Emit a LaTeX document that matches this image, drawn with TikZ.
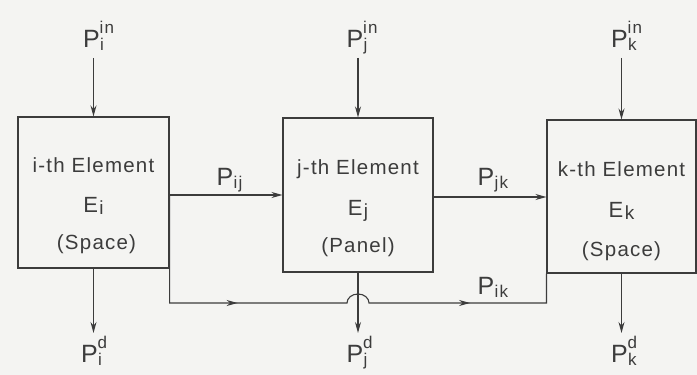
\documentclass[tikz,border=0pt]{standalone}
\usepackage{fontspec}
\setmainfont{Liberation Sans}[LetterSpace=6]
\usetikzlibrary{arrows.meta,decorations.markings}
\definecolor{ink}{RGB}{60,60,60}
\definecolor{paper}{RGB}{244,244,242}
\newcommand\subsz{\fontsize{17}{17}\selectfont}
\newcommand\Plab[2]{P\rlap{\kern0.5pt\raisebox{-3pt}{\subsz #1}}\raisebox{14.5pt}{\subsz #2}}
\newcommand\Esub[1]{{\fontsize{22}{22}\selectfont E}\kern1.5pt\raisebox{-2pt}{\fontsize{19}{19}\selectfont #1}}
\begin{document}
\begin{tikzpicture}[x=1pt,y=1pt,line width=1.1pt,draw=ink,text=ink,
  tipA/.style={-{Stealth[length=11pt,width=6pt]}},
  elem/.style={draw,rectangle,inner sep=0pt},
  etxt/.style={anchor=base,inner sep=0pt,font=\fontsize{20.5}{20.5}\selectfont},
  lbl/.style={anchor=base west,inner sep=0pt,font=\fontsize{25}{25}\selectfont},
  midtips/.style={postaction={decorate},decoration={markings,
    mark=at position 176pt with {\arrow{Stealth[length=11pt,width=6pt]}},
    mark=at position 418pt with {\arrow{Stealth[length=11pt,width=6pt]}}}}]
\fill[paper] (0,0) rectangle (697,375);
\useasboundingbox (0,0) rectangle (697,375);
% element boxes
\node[elem,minimum width=151pt,minimum height=151pt] (bi) at (93.5,182.5) {};
\node[elem,minimum width=150pt,minimum height=154pt] (bj) at (358,180) {};
\node[elem,minimum width=149pt,minimum height=153pt] (bk) at (621.5,178.5) {};
% box texts
\node[etxt] (ti1) at ([yshift=19.5pt]bi.center) {i-th Element};
\node[etxt] (ti2) at ([yshift=-20.5pt]bi.center) {\Esub{i}};
\node[etxt] (ti3) at ([shift={(3pt,-57.5pt)}]bi.center) {(Space)};
\node[etxt] (tj1) at ([yshift=20pt]bj.center) {j-th Element};
\node[etxt] (tj2) at ([yshift=-21pt]bj.center) {\Esub{j}};
\node[etxt] (tj3) at ([yshift=-58pt]bj.center) {(Panel)};
\node[etxt] (tk1) at ([yshift=19.5pt]bk.center) {k-th Element};
\node[etxt] (tk2) at ([yshift=-21.5pt]bk.center) {\Esub{k}};
\node[etxt] (tk3) at ([yshift=-60pt]bk.center) {(Space)};
% coordinates
\coordinate (inY) at (0,317);
\coordinate (outY) at (0,42);
\coordinate (pij) at (0,180);
\coordinate (pjk) at (0,178);
\coordinate (pik) at (0,72);
\coordinate (ii) at (bi.north |- inY);
\coordinate (ij) at (bj.north |- inY);
\coordinate (ik) at (bk.north |- inY);
\coordinate (oi) at (bi.south |- outY);
\coordinate (oj) at (bj.south |- outY);
\coordinate (ok) at (bk.south |- outY);
% input labels
\node[lbl] (lii) at ([shift={(-11pt,10pt)}]ii) {\Plab{i}{in}};
\node[lbl] (lij) at ([shift={(-12pt,10pt)}]ij) {\Plab{j}{in}};
\node[lbl] (lik) at ([shift={(-11pt,10pt)}]ik) {\Plab{k}{in}};
% output labels
\node[lbl] (loi) at ([shift={(-13pt,-30pt)}]oi) {\Plab{i}{d}};
\node[lbl] (loj) at ([shift={(-12pt,-30pt)}]oj) {\Plab{j}{d}};
\node[lbl] (lok) at ([shift={(-11pt,-30pt)}]ok) {\Plab{k}{d}};
% transfer labels
\node[lbl] (lpij) at (216,189) {\Plab{ij}{}};
\node[lbl] (lpjk) at (477,189) {\Plab{jk}{}};
\node[lbl] (lpik) at (477,80) {\Plab{ik}{}};
% input / output arrows
\draw[tipA] (ii) -- (bi.north);
\draw[tipA] (ij) -- (bj.north);
\draw[tipA] (ik) -- (bk.north);
\draw[tipA] (bi.south) -- (oi);
\draw[tipA] (bj.south) -- (oj);
\draw[tipA] (bk.south) -- (ok);
% transfers
\draw[tipA] (bi.east |- pij) -- (bj.west |- pij);
\draw[tipA] (bj.east |- pjk) -- (bk.west |- pjk);
\draw[midtips] (bi.east |- pij) -- (bi.east |- pik)
  -- ([xshift=-11pt]bj.south |- pik)
  arc[start angle=180,end angle=0,x radius=11pt,y radius=9pt]
  -- (bk.west |- pik) -- (bk.south west);
\end{tikzpicture}
\end{document}
